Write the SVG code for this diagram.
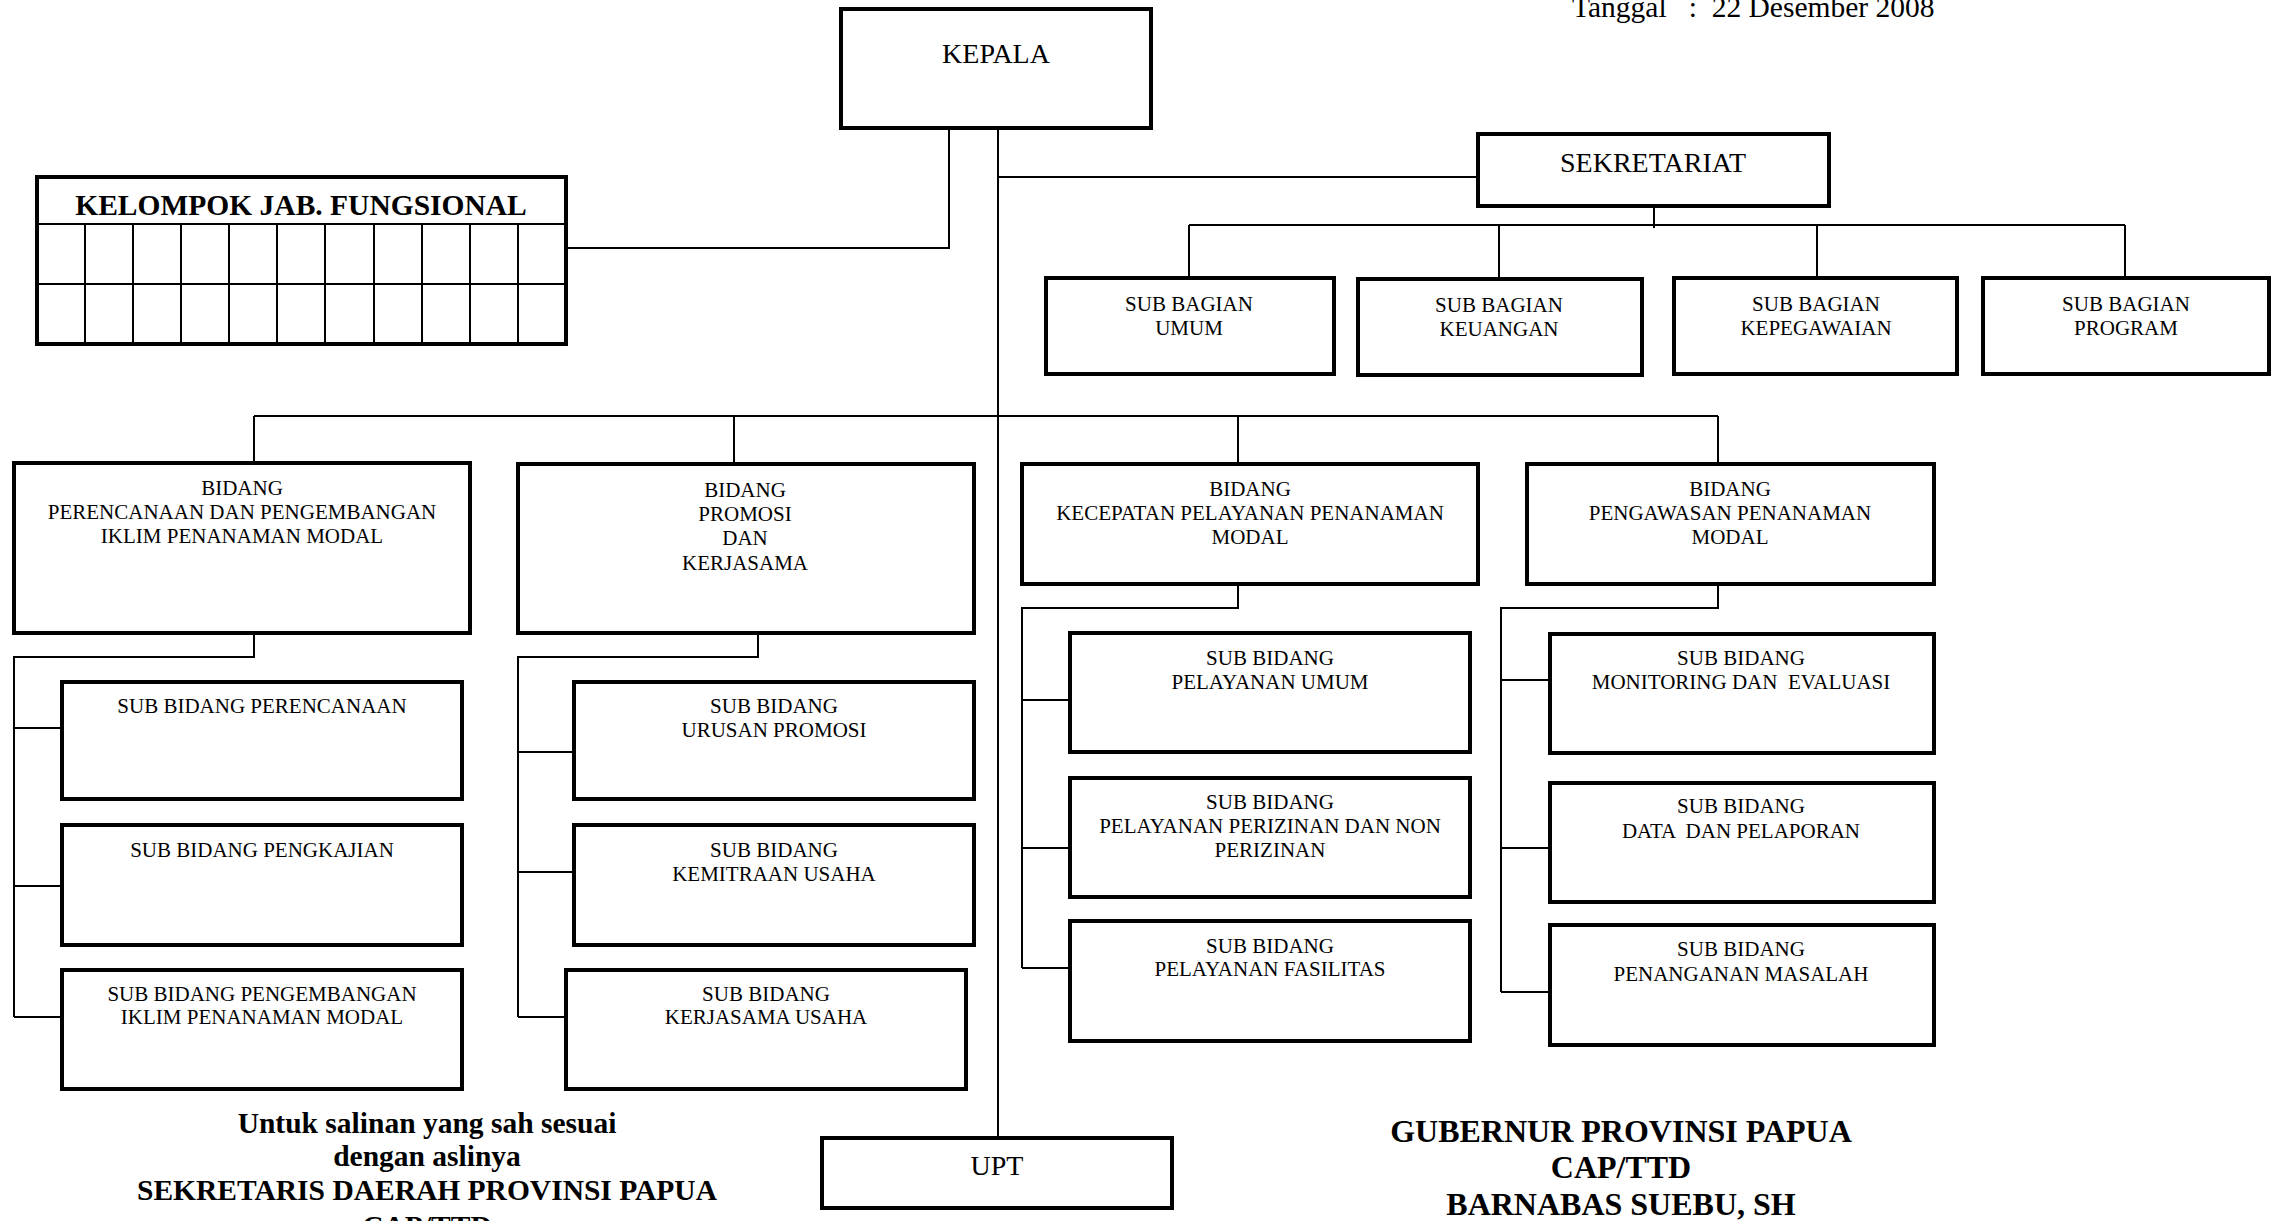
<svg xmlns="http://www.w3.org/2000/svg" width="2274" height="1221" viewBox="0 0 2274 1221">
<style>
text{font-family:"Liberation Serif","Times New Roman",serif;fill:#000;text-anchor:middle}
.box{fill:#fff;stroke:#000;stroke-width:4}
.ln{fill:none;stroke:#000;stroke-width:2}
.sm{font-size:21px}
.md{font-size:28px}
.bl{font-weight:bold;font-size:29.5px}
.br{font-weight:bold;font-size:32px}
</style>
<rect width="2274" height="1221" fill="#fff"/>
<g id="connectors" class="ln">
<path d="M998 129V1136"/>
<path d="M949 129V248H566"/>
<path d="M998 177H1477"/>
<path d="M1654 207V228M1189 225H2125M1189 225V277M1499 225V278M1817 225V277M2125 225V277"/>
<path d="M254 416H1718M254 416V462M734 416V463M1238 416V463M1718 416V463"/>
<path d="M254 632V657H14V1017M14 728H61M14 886H61M14 1017H61"/>
<path d="M758 634V657H518V1017M518 752H573M518 872H573M518 1017H565"/>
<path d="M1238 584V608H1022V968M1022 700H1069M1022 848H1069M1022 968H1069"/>
<path d="M1718 584V608H1501V992M1501 680H1549M1501 848H1549M1501 992H1549"/>
</g>
<text x="1572" y="17" style="text-anchor:start;font-size:29.5px" xml:space="preserve">Tanggal   :  22 Desember 2008</text>
<g id="kepala"><rect class="box" x="841" y="9" width="310" height="119"/><text x="996" y="63" class="md">KEPALA</text></g>
<g id="kelompok">
<rect class="box" x="37" y="177" width="529" height="167"/>
<path class="ln" d="M37 224H566M37 284H566M85 224V344M133 224V344M181 224V344M229 224V344M277 224V344M325 224V344M374 224V344M422 224V344M470 224V344M518 224V344"/>
<text x="301" y="215" style="font-weight:bold;font-size:29.5px">KELOMPOK JAB. FUNGSIONAL</text>
</g>
<g id="sekretariat"><rect class="box" x="1478" y="134" width="351" height="72"/><text x="1653" y="172" class="md">SEKRETARIAT</text></g>
<g id="sb-umum"><rect class="box" x="1046" y="278" width="288" height="96"/><text x="1189" y="311" class="sm">SUB BAGIAN</text><text x="1189" y="335" class="sm">UMUM</text></g>
<g id="sb-keuangan"><rect class="box" x="1358" y="279" width="284" height="96"/><text x="1499" y="312" class="sm">SUB BAGIAN</text><text x="1499" y="336" class="sm">KEUANGAN</text></g>
<g id="sb-kepegawaian"><rect class="box" x="1674" y="278" width="283" height="96"/><text x="1816" y="311" class="sm">SUB BAGIAN</text><text x="1816" y="335" class="sm">KEPEGAWAIAN</text></g>
<g id="sb-program"><rect class="box" x="1983" y="278" width="286" height="96"/><text x="2126" y="311" class="sm">SUB BAGIAN</text><text x="2126" y="335" class="sm">PROGRAM</text></g>
<g id="bidang-perencanaan"><rect class="box" x="14" y="463" width="456" height="170"/><text x="242" y="495" class="sm">BIDANG</text><text x="242" y="519" class="sm">PERENCANAAN DAN PENGEMBANGAN</text><text x="242" y="543" class="sm">IKLIM PENANAMAN MODAL</text></g>
<g id="bidang-promosi"><rect class="box" x="518" y="464" width="456" height="169"/><text x="745" y="497" class="sm">BIDANG</text><text x="745" y="521" class="sm">PROMOSI</text><text x="745" y="545" class="sm">DAN</text><text x="745" y="570" class="sm">KERJASAMA</text></g>
<g id="bidang-kecepatan"><rect class="box" x="1022" y="464" width="456" height="120"/><text x="1250" y="496" class="sm">BIDANG</text><text x="1250" y="520" class="sm">KECEPATAN PELAYANAN PENANAMAN</text><text x="1250" y="544" class="sm">MODAL</text></g>
<g id="bidang-pengawasan"><rect class="box" x="1527" y="464" width="407" height="120"/><text x="1730" y="496" class="sm">BIDANG</text><text x="1730" y="520" class="sm">PENGAWASAN PENANAMAN</text><text x="1730" y="544" class="sm">MODAL</text></g>
<g id="sub-perencanaan"><rect class="box" x="62" y="682" width="400" height="117"/><text x="262" y="713" class="sm">SUB BIDANG PERENCANAAN</text></g>
<g id="sub-pengkajian"><rect class="box" x="62" y="825" width="400" height="120"/><text x="262" y="857" class="sm">SUB BIDANG PENGKAJIAN</text></g>
<g id="sub-pengembangan"><rect class="box" x="62" y="970" width="400" height="119"/><text x="262" y="1001" class="sm">SUB BIDANG PENGEMBANGAN</text><text x="262" y="1024" class="sm">IKLIM PENANAMAN MODAL</text></g>
<g id="sub-urusan-promosi"><rect class="box" x="574" y="682" width="400" height="117"/><text x="774" y="713" class="sm">SUB BIDANG</text><text x="774" y="737" class="sm">URUSAN PROMOSI</text></g>
<g id="sub-kemitraan"><rect class="box" x="574" y="825" width="400" height="120"/><text x="774" y="857" class="sm">SUB BIDANG</text><text x="774" y="881" class="sm">KEMITRAAN USAHA</text></g>
<g id="sub-kerjasama"><rect class="box" x="566" y="970" width="400" height="119"/><text x="766" y="1001" class="sm">SUB BIDANG</text><text x="766" y="1024" class="sm">KERJASAMA USAHA</text></g>
<g id="sub-pelayanan-umum"><rect class="box" x="1070" y="633" width="400" height="119"/><text x="1270" y="665" class="sm">SUB BIDANG</text><text x="1270" y="689" class="sm">PELAYANAN UMUM</text></g>
<g id="sub-perizinan"><rect class="box" x="1070" y="778" width="400" height="119"/><text x="1270" y="809" class="sm">SUB BIDANG</text><text x="1270" y="833" class="sm">PELAYANAN PERIZINAN DAN NON</text><text x="1270" y="857" class="sm">PERIZINAN</text></g>
<g id="sub-fasilitas"><rect class="box" x="1070" y="921" width="400" height="120"/><text x="1270" y="953" class="sm">SUB BIDANG</text><text x="1270" y="976" class="sm">PELAYANAN FASILITAS</text></g>
<g id="sub-monitoring"><rect class="box" x="1550" y="634" width="384" height="119"/><text x="1741" y="665" class="sm">SUB BIDANG</text><text x="1741" y="689" class="sm" xml:space="preserve">MONITORING DAN  EVALUASI</text></g>
<g id="sub-data"><rect class="box" x="1550" y="783" width="384" height="119"/><text x="1741" y="813" class="sm">SUB BIDANG</text><text x="1741" y="838" class="sm" xml:space="preserve">DATA  DAN PELAPORAN</text></g>
<g id="sub-masalah"><rect class="box" x="1550" y="925" width="384" height="120"/><text x="1741" y="956" class="sm">SUB BIDANG</text><text x="1741" y="981" class="sm">PENANGANAN MASALAH</text></g>
<g id="upt"><rect class="box" x="822" y="1138" width="350" height="70"/><text x="997" y="1175" class="md">UPT</text></g>
<g id="pengesahan-kiri">
<text x="427" y="1133" class="bl">Untuk salinan yang sah sesuai</text>
<text x="427" y="1166" class="bl">dengan aslinya</text>
<text x="427" y="1200" class="bl">SEKRETARIS DAERAH PROVINSI PAPUA</text>
<text x="427" y="1236" class="bl">CAP/TTD</text>
</g>
<g id="pengesahan-kanan">
<text x="1621" y="1142" class="br">GUBERNUR PROVINSI PAPUA</text>
<text x="1621" y="1178" class="br">CAP/TTD</text>
<text x="1621" y="1215" class="br">BARNABAS SUEBU, SH</text>
</g>
</svg>
